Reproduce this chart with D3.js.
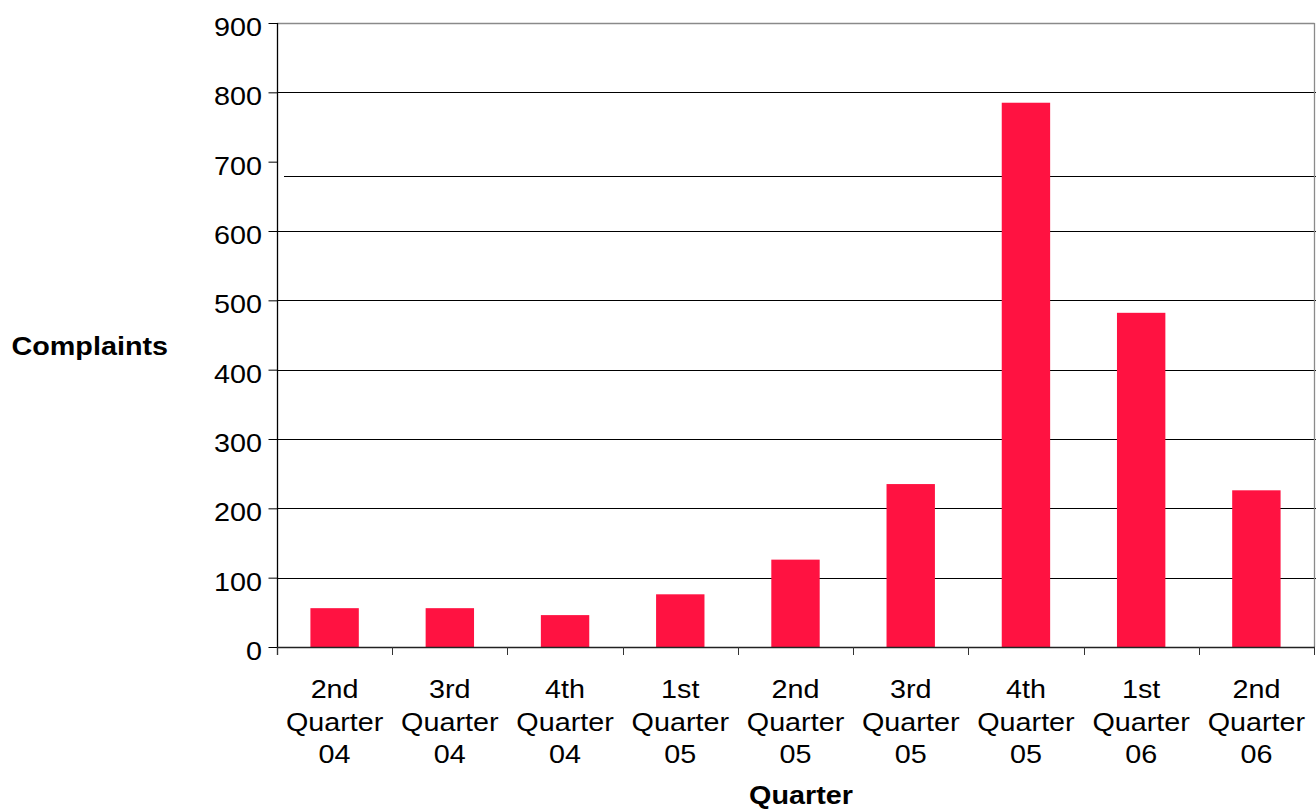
<!DOCTYPE html>
<html>
<head>
<meta charset="utf-8">
<script src="https://cdn.jsdelivr.net/npm/d3@7"></script>
<style>
  html, body { margin: 0; padding: 0; background: #fff; }
  svg { display: block; }
  text { font-family: "Liberation Sans", Arial, sans-serif; fill: #000; }
</style>
</head>
<body>
<svg id="chart" width="1316" height="809"></svg>
<script>
// Complaints received per quarter
const quarters = ["2nd Quarter 04", "3rd Quarter 04", "4th Quarter 04", "1st Quarter 05",
                  "2nd Quarter 05", "3rd Quarter 05", "4th Quarter 05", "1st Quarter 06", "2nd Quarter 06"];
const complaints = [56, 56, 46, 76, 126, 235, 785, 482, 226];
const yTicks = [0, 100, 200, 300, 400, 500, 600, 700, 800, 900];

(function () {
const svg = d3.select("#chart");
const plotL = 277, plotR = 1314, plotT = 23, plotB = 647;
const fontSize = 25, stretch = 1.15;

const x = d3.scaleBand().domain(quarters).range([plotL, plotR])
  .paddingInner(0.58).paddingOuter(0.29);
const y = d3.scaleLinear().domain([0, 900]).range([plotB, plotT]);

// horizontally stretched text helper
function label(g, px, py, str, anchor, bold) {
  g.append("g")
    .attr("transform", `translate(${px},${py}) scale(${stretch},1)`)
    .append("text")
    .attr("text-anchor", anchor)
    .attr("font-size", fontSize)
    .attr("font-weight", bold ? "bold" : "normal")
    .text(str);
}

// horizontal gridlines
const grid = svg.append("g");
yTicks.filter(v => v > 0 && v < 900 && v !== 700).forEach(v => {
  grid.append("line")
    .attr("x1", plotL).attr("x2", plotR + 2)
    .attr("y1", Math.round(y(v)) + 0.5).attr("y2", Math.round(y(v)) + 0.5)
    .attr("stroke", "#000").attr("stroke-width", 1);
});
// the 700 gridline sits slightly low and starts inset from the axis
grid.append("line")
  .attr("x1", plotL + 7).attr("x2", plotR + 2)
  .attr("y1", Math.round(y(679)) + 0.5).attr("y2", Math.round(y(679)) + 0.5)
  .attr("stroke", "#000").attr("stroke-width", 1);

// plot frame top and right (grey)
svg.append("line").attr("x1", plotL).attr("x2", plotR + 0.5)
  .attr("y1", plotT + 0.5).attr("y2", plotT + 0.5)
  .attr("stroke", "#8a8a8a").attr("stroke-width", 1.3);
svg.append("line").attr("x1", plotR + 0.5).attr("x2", plotR + 0.5)
  .attr("y1", plotT).attr("y2", plotB)
  .attr("stroke", "#8a8a8a").attr("stroke-width", 1.3);

// bars
svg.append("g").selectAll("rect")
  .data(quarters)
  .join("rect")
  .attr("x", d => x(d))
  .attr("width", x.bandwidth())
  .attr("y", (d, i) => y(complaints[i]))
  .attr("height", (d, i) => plotB - y(complaints[i]))
  .attr("fill", "#ff1241");

// y axis
const yAxis = svg.append("g")
  .attr("transform", `translate(${plotL + 0.5},0)`)
  .call(d3.axisLeft(y).tickValues(yTicks).tickSize(9).tickFormat(""));
yAxis.select(".domain").attr("stroke", "#000").attr("stroke-width", 1.3)
  .attr("d", `M0,${plotT}V${plotB + 8}`);
yAxis.selectAll(".tick line").attr("stroke", "#000");
yTicks.forEach(v => label(svg, 262, y(v) + 13, String(v), "end", false));

// x axis with ticks at category boundaries
const step = x.step();
const xa = svg.append("g");
xa.append("line").attr("x1", plotL).attr("x2", plotR + 1)
  .attr("y1", plotB + 0.5).attr("y2", plotB + 0.5)
  .attr("stroke", "#222").attr("stroke-width", 1.3);
d3.range(quarters.length + 1).forEach(i => {
  const bx = Math.round(plotL + i * step) + 0.5;
  xa.append("line").attr("x1", bx).attr("x2", bx)
    .attr("y1", plotB).attr("y2", plotB + 8)
    .attr("stroke", "#333").attr("stroke-width", 1);
});
quarters.forEach(q => {
  const cx = x(q) + x.bandwidth() / 2;
  const parts = q.split(" ");
  parts.forEach((p, j) => label(svg, cx, 698 + j * 32.6, p, "middle", false));
});

// axis titles
label(svg, 168, 355, "Complaints", "end", true);
label(svg, 801, 804, "Quarter", "middle", true);
})();
</script>
</body>
</html>
